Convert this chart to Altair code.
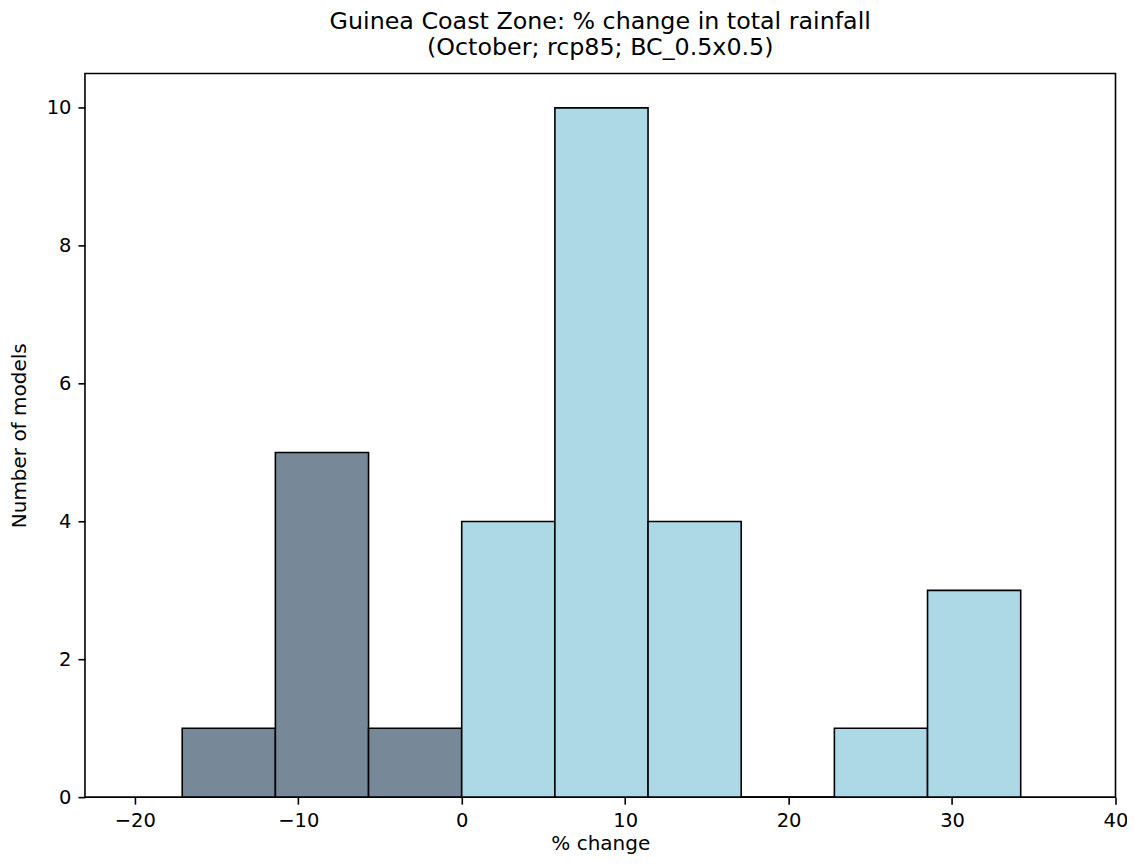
import altair as alt
import pandas as pd

# Histogram bin edges (% change) and counts (number of models)
bin_edges = [-17.1, -11.4, -5.7, 0.0, 5.7, 11.4, 17.1, 22.8, 28.5, 34.2]
counts = [1, 5, 1, 4, 10, 4, 0, 1, 3]
x_ticks = [-20, -10, 0, 10, 20, 30, 40]
y_ticks = [0, 2, 4, 6, 8, 10]

title_lines = ["Guinea Coast Zone: % change in total rainfall", "(October; rcp85; BC_0.5x0.5)"]

df = pd.DataFrame({
    "start": bin_edges[:-1],
    "end": bin_edges[1:],
    "count": counts,
})
df["sign"] = ["neg" if e <= 0 else "pos" for e in df["end"]]

FONT = "DejaVu Sans"

bars = alt.Chart(df).mark_rect(stroke="black", strokeWidth=1.6).encode(
    x=alt.X("start:Q",
            scale=alt.Scale(domain=[-23.05, 40], nice=False, zero=False),
            axis=alt.Axis(values=x_ticks, format="d", title="% change",
                          grid=False, domain=False, tickSize=7, tickWidth=1.6,
                          tickColor="black", labelColor="black",
                          labelFontSize=19.5, labelFont=FONT, labelPadding=7,
                          titleFont=FONT, titleFontSize=20, titleFontWeight="normal",
                          titleColor="black", titlePadding=4, labelFlush=False)),
    x2="end:Q",
    y=alt.Y("count:Q",
            scale=alt.Scale(domain=[0, 10.5], nice=False),
            axis=alt.Axis(values=y_ticks, format="d", title="Number of models",
                          grid=False, domain=False, tickSize=7, tickWidth=1.6,
                          tickColor="black", labelColor="black",
                          labelFontSize=19.5, labelFont=FONT, labelPadding=7,
                          titleFont=FONT, titleFontSize=20, titleFontWeight="normal",
                          titleColor="black", titlePadding=17, labelFlush=False)),
    y2=alt.datum(0),
    color=alt.Color("sign:N", scale=alt.Scale(domain=["neg", "pos"],
                                              range=["#778899", "#ADD8E6"]),
                    legend=None),
)

chart = bars.properties(
    width=1031,
    height=724,
    title=alt.TitleParams(text=title_lines, font=FONT, fontSize=23.8,
                          fontWeight="normal", color="black", anchor="middle",
                          offset=14, lineHeight=26),
    autosize=alt.AutoSizeParams(type="none"),
    padding={"left": 77, "top": 65.3, "right": 11.5, "bottom": 60},
).configure(background="white").configure_view(stroke="black", strokeWidth=1.6)

chart.save("out.html", embed_options={"renderer": "svg", "actions": False})
